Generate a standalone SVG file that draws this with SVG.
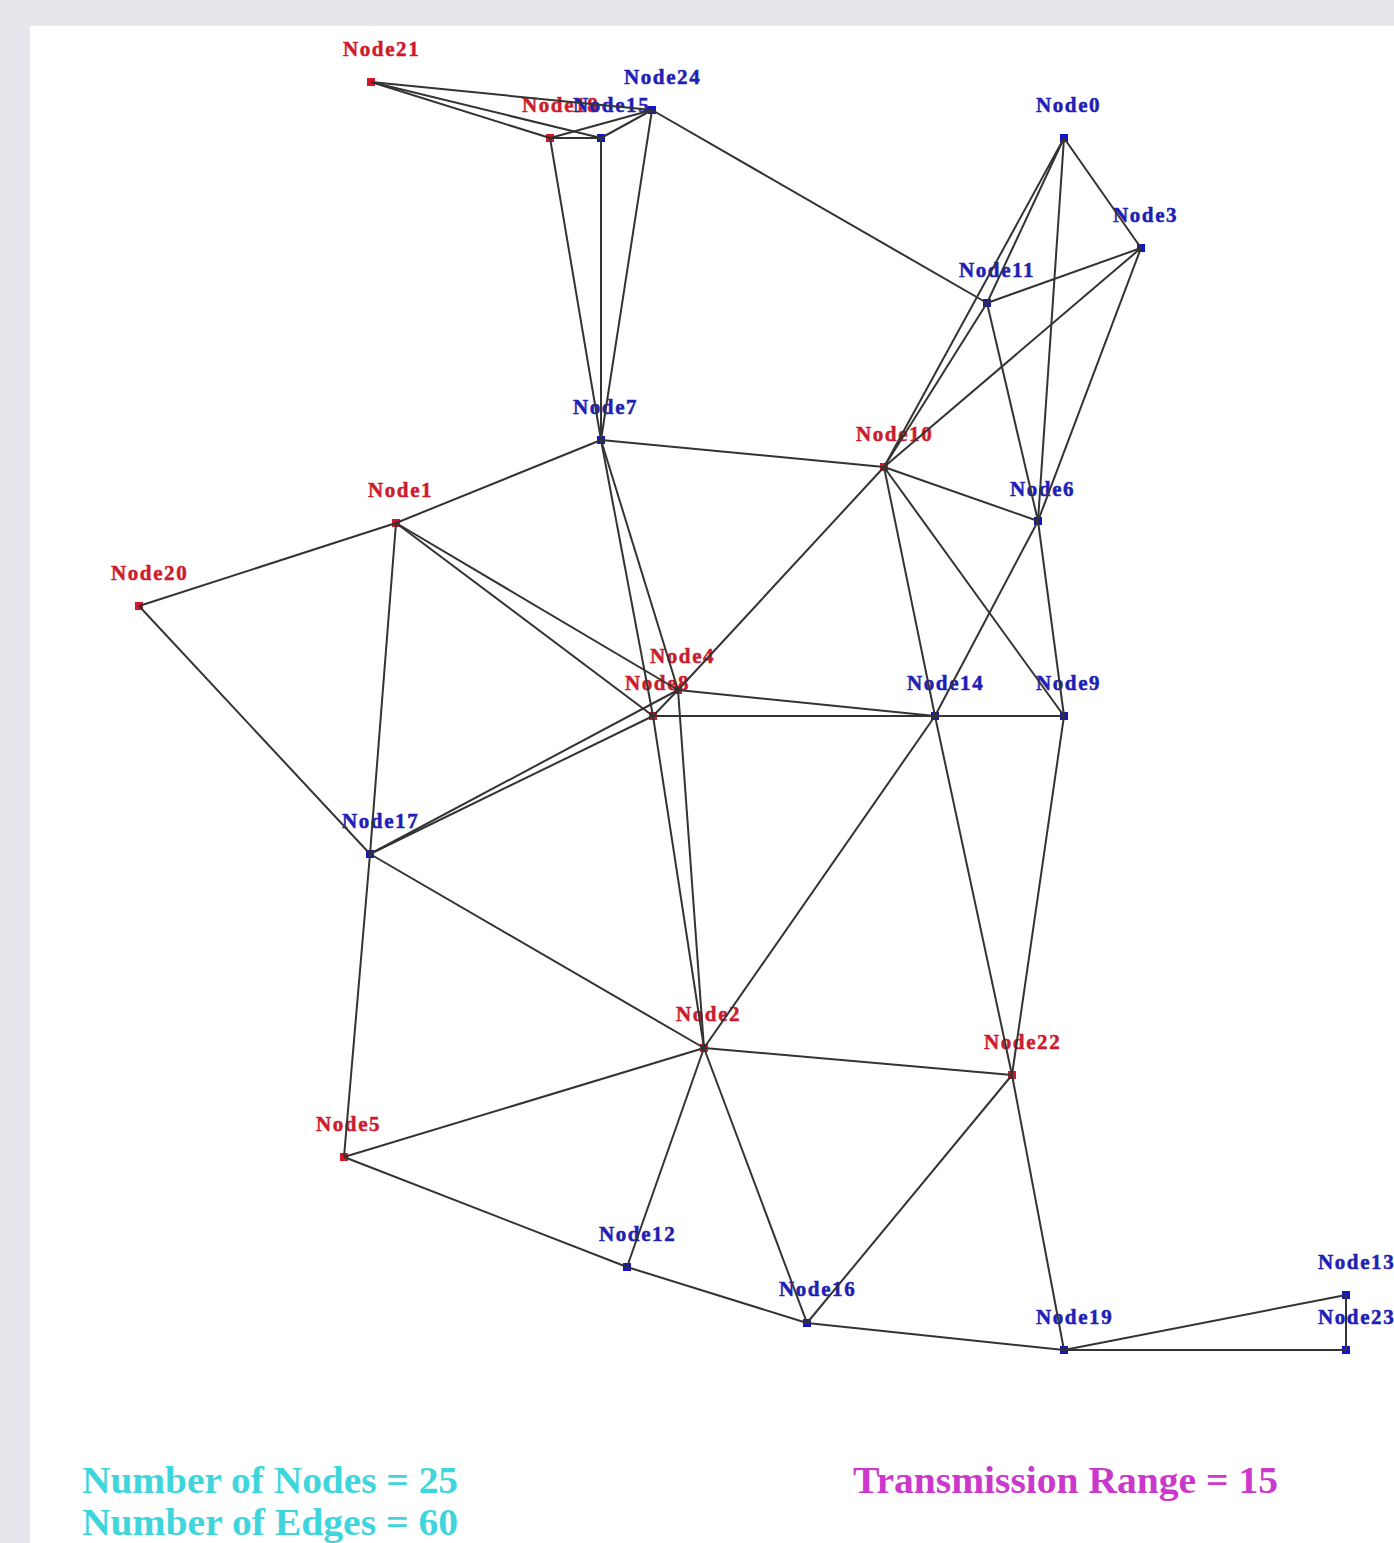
<svg xmlns="http://www.w3.org/2000/svg" width="1394" height="1543" viewBox="0 0 1394 1543">
<style>
.e{stroke:#333;stroke-width:2;fill:none}
.r rect{fill:#d81428}
.b rect{fill:#1414c8}
.r text{fill:#cc1c2c;stroke:#cc1c2c}
.b text{fill:#2020b4;stroke:#2020b4}
text.l{font-family:"Liberation Serif",serif;font-weight:bold;font-size:21px;letter-spacing:1.6px;stroke-width:0.5px}
.info{font-family:"Liberation Serif",serif;font-weight:bold;font-size:38px}
</style>
<rect x="0" y="0" width="1394" height="1543" fill="#e5e7ec"/>
<rect x="30" y="26" width="1364" height="1517" fill="#ffffff"/>
<g id="node18" class="r"><text class="l" x="522" y="112">Node18</text><rect x="546" y="134" width="8" height="8"/></g>
<g id="node15" class="b"><text class="l" x="573" y="112">Node15</text><rect x="597" y="134" width="8" height="8"/></g>
<g id="node21" class="r"><text class="l" x="343" y="56">Node21</text><rect x="367" y="78" width="8" height="8"/></g>
<g id="node24" class="b"><text class="l" x="624" y="84">Node24</text><rect x="648" y="106" width="8" height="8"/></g>
<g id="node0" class="b"><text class="l" x="1036" y="112">Node0</text><rect x="1060" y="134" width="8" height="8"/></g>
<g id="node3" class="b"><text class="l" x="1113" y="222">Node3</text><rect x="1137" y="244" width="8" height="8"/></g>
<g id="node11" class="b"><text class="l" x="959" y="277">Node11</text><rect x="983" y="299" width="8" height="8"/></g>
<g id="node7" class="b"><text class="l" x="573" y="414">Node7</text><rect x="597" y="436" width="8" height="8"/></g>
<g id="node10" class="r"><text class="l" x="856" y="441">Node10</text><rect x="880" y="463" width="8" height="8"/></g>
<g id="node6" class="b"><text class="l" x="1010" y="496">Node6</text><rect x="1034" y="517" width="8" height="8"/></g>
<g id="node1" class="r"><text class="l" x="368" y="497">Node1</text><rect x="392" y="519" width="8" height="8"/></g>
<g id="node20" class="r"><text class="l" x="111" y="580">Node20</text><rect x="135" y="602" width="8" height="8"/></g>
<g id="node8" class="r"><text class="l" x="625" y="690">Node8</text><rect x="649" y="712" width="8" height="8"/></g>
<g id="node4" class="r"><text class="l" x="650" y="663">Node4</text><rect x="674" y="686" width="8" height="8"/></g>
<g id="node14" class="b"><text class="l" x="907" y="690">Node14</text><rect x="931" y="712" width="8" height="8"/></g>
<g id="node9" class="b"><text class="l" x="1036" y="690">Node9</text><rect x="1060" y="712" width="8" height="8"/></g>
<g id="node17" class="b"><text class="l" x="342" y="828">Node17</text><rect x="366" y="850" width="8" height="8"/></g>
<g id="node2" class="r"><text class="l" x="676" y="1021">Node2</text><rect x="700" y="1044" width="8" height="8"/></g>
<g id="node22" class="r"><text class="l" x="984" y="1049">Node22</text><rect x="1008" y="1071" width="8" height="8"/></g>
<g id="node5" class="r"><text class="l" x="316" y="1131">Node5</text><rect x="340" y="1153" width="8" height="8"/></g>
<g id="node12" class="b"><text class="l" x="599" y="1241">Node12</text><rect x="623" y="1263" width="8" height="8"/></g>
<g id="node16" class="b"><text class="l" x="779" y="1296">Node16</text><rect x="803" y="1319" width="8" height="8"/></g>
<g id="node19" class="b"><text class="l" x="1036" y="1324">Node19</text><rect x="1060" y="1346" width="8" height="8"/></g>
<g id="node13" class="b"><text class="l" x="1318" y="1269">Node13</text><rect x="1342" y="1291" width="8" height="8"/></g>
<g id="node23" class="b"><text class="l" x="1318" y="1324">Node23</text><rect x="1342" y="1346" width="8" height="8"/></g>
<g id="connectors" class="e">
<line x1="371" y1="82" x2="652" y2="110"/>
<line x1="371" y1="82" x2="601" y2="138"/>
<line x1="371" y1="82" x2="550" y2="138"/>
<line x1="550" y1="138" x2="601" y2="138"/>
<line x1="550" y1="138" x2="652" y2="110"/>
<line x1="601" y1="138" x2="652" y2="110"/>
<line x1="550" y1="138" x2="601" y2="440"/>
<line x1="601" y1="138" x2="601" y2="440"/>
<line x1="652" y1="110" x2="601" y2="440"/>
<line x1="652" y1="110" x2="987" y2="303"/>
<line x1="1064" y1="138" x2="1141" y2="248"/>
<line x1="1064" y1="138" x2="884" y2="467"/>
<line x1="1064" y1="138" x2="987" y2="303"/>
<line x1="987" y1="303" x2="884" y2="467"/>
<line x1="1064" y1="138" x2="1038" y2="521"/>
<line x1="1141" y1="248" x2="987" y2="303"/>
<line x1="1141" y1="248" x2="884" y2="467"/>
<line x1="1141" y1="248" x2="1038" y2="521"/>
<line x1="987" y1="303" x2="1038" y2="521"/>
<line x1="601" y1="440" x2="884" y2="467"/>
<line x1="601" y1="440" x2="396" y2="523"/>
<line x1="601" y1="440" x2="678" y2="690"/>
<line x1="601" y1="440" x2="653" y2="716"/>
<line x1="884" y1="467" x2="1038" y2="521"/>
<line x1="884" y1="467" x2="1064" y2="716"/>
<line x1="884" y1="467" x2="935" y2="716"/>
<line x1="884" y1="467" x2="678" y2="690"/>
<line x1="1038" y1="521" x2="935" y2="716"/>
<line x1="1038" y1="521" x2="1064" y2="716"/>
<line x1="396" y1="523" x2="139" y2="606"/>
<line x1="396" y1="523" x2="370" y2="854"/>
<line x1="396" y1="523" x2="678" y2="690"/>
<line x1="396" y1="523" x2="653" y2="716"/>
<line x1="139" y1="606" x2="370" y2="854"/>
<line x1="370" y1="854" x2="653" y2="716"/>
<line x1="370" y1="854" x2="678" y2="690"/>
<line x1="653" y1="716" x2="678" y2="690"/>
<line x1="653" y1="716" x2="935" y2="716"/>
<line x1="678" y1="690" x2="935" y2="716"/>
<line x1="935" y1="716" x2="1064" y2="716"/>
<line x1="935" y1="716" x2="704" y2="1048"/>
<line x1="935" y1="716" x2="1012" y2="1075"/>
<line x1="1064" y1="716" x2="1012" y2="1075"/>
<line x1="653" y1="716" x2="704" y2="1048"/>
<line x1="678" y1="690" x2="704" y2="1048"/>
<line x1="370" y1="854" x2="704" y2="1048"/>
<line x1="370" y1="854" x2="344" y2="1157"/>
<line x1="704" y1="1048" x2="344" y2="1157"/>
<line x1="704" y1="1048" x2="1012" y2="1075"/>
<line x1="704" y1="1048" x2="627" y2="1267"/>
<line x1="704" y1="1048" x2="807" y2="1323"/>
<line x1="1012" y1="1075" x2="807" y2="1323"/>
<line x1="1012" y1="1075" x2="1064" y2="1350"/>
<line x1="344" y1="1157" x2="627" y2="1267"/>
<line x1="627" y1="1267" x2="807" y2="1323"/>
<line x1="807" y1="1323" x2="1064" y2="1350"/>
<line x1="1064" y1="1350" x2="1346" y2="1295"/>
<line x1="1064" y1="1350" x2="1346" y2="1350"/>
<line x1="1346" y1="1295" x2="1346" y2="1350"/>
</g>
<text class="info" x="82" y="1493" fill="#3ed6dc" textLength="376" lengthAdjust="spacingAndGlyphs">Number of Nodes = 25</text>
<text class="info" x="82" y="1535" fill="#3ed6dc" textLength="376" lengthAdjust="spacingAndGlyphs">Number of Edges = 60</text>
<text class="info" x="853" y="1493" fill="#cc38cc" textLength="425" lengthAdjust="spacingAndGlyphs">Transmission Range = 15</text>
</svg>
